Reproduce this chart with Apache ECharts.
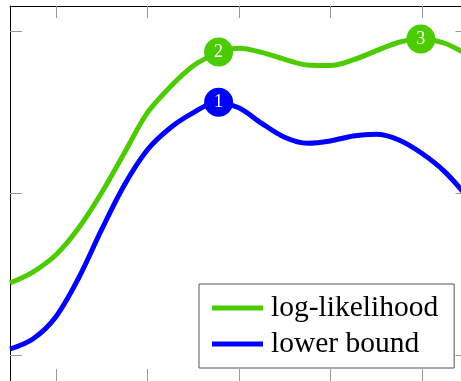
<!DOCTYPE html>
<html>
<head>
<meta charset="utf-8">
<script src="https://cdn.jsdelivr.net/npm/echarts@6/dist/echarts.min.js"></script>
<style>
  html, body { margin: 0; padding: 0; background: #fff; }
  #chart { width: 461px; height: 381px; }
</style>
</head>
<body>
<div id="chart"></div>
<script>
// ---- data ----
const seriesNames = ['log-likelihood', 'lower bound'];

const xs = [0.5, 0.75, 1.0, 1.25, 1.5, 1.75, 2.0, 2.25, 2.5, 2.75, 3.0, 3.25, 3.5, 3.75, 4.0, 4.25, 4.5, 4.75, 5.0, 5.25, 5.5];
const logLikelihood = [0.444, 0.512, 0.617, 0.784, 1.000, 1.247, 1.494, 1.654, 1.784, 1.858, 1.893, 1.868, 1.825, 1.790, 1.786, 1.821, 1.877, 1.930, 1.951, 1.924, 1.852];
const lowerBound    = [0.037, 0.099, 0.235, 0.475, 0.772, 1.049, 1.265, 1.401, 1.494, 1.559, 1.526, 1.430, 1.344, 1.307, 1.321, 1.352, 1.362, 1.327, 1.245, 1.132, 0.975];

// numbered markers
const markLabels = ['1', '2', '3'];
const markX = [2.78, 2.78, 4.99];
const markY = [1.56, 1.87, 1.95];
const markSeries = [1, 0, 0]; // index into colours

const xTicks = [1, 2, 3, 4, 5];
const yTicks = [0, 1, 2];

// ---- styling ----
const colors = ['#4ccc00', '#0000ff'];
const serif = 'Liberation Serif';

const zip = (a, b) => a.map((x, i) => [x, b[i]]);

const tickStyle = { show: true, inside: true, length: 12, lineStyle: { color: '#999', width: 1 } };

function xAxisDef(pos) {
  return {
    type: 'value', position: pos, min: 0.5, max: 5.5,
    axisLine: { show: true, onZero: false, lineStyle: { color: '#000', width: 1 } },
    axisTick: Object.assign({ customValues: xTicks }, tickStyle),
    axisLabel: { show: false },
    splitLine: { show: false }
  };
}
function yAxisDef(pos) {
  return {
    type: 'value', position: pos, min: -0.1605, max: 2.154,
    axisLine: { show: true, onZero: false, lineStyle: { color: '#000', width: 1 } },
    axisTick: Object.assign({ customValues: yTicks }, tickStyle),
    axisLabel: { show: false },
    splitLine: { show: false }
  };
}

const chart = echarts.init(document.getElementById('chart'), null, { renderer: 'canvas' });

const markerData = markLabels.map((lab, i) => ({
  value: [markX[i], markY[i]],
  name: lab,
  itemStyle: { color: colors[markSeries[i]], opacity: 1 }
}));

chart.setOption({
  animation: false,
  grid: { left: 10, top: 6, width: 457.5, height: 375, containLabel: false, outerBoundsMode: 'none' },
  xAxis: [xAxisDef('bottom'), xAxisDef('top')],
  yAxis: [yAxisDef('left'), yAxisDef('right')],
  legend: {
    data: seriesNames,
    orient: 'vertical',
    left: 199, top: 284,
    padding: [6, 16, 6, 13],
    itemGap: 0,
    itemWidth: 51, itemHeight: 5,
    icon: 'rect',
    selectedMode: false,
    backgroundColor: '#fff',
    borderColor: '#555',
    borderWidth: 1,
    borderRadius: 0,
    textStyle: { fontFamily: serif, fontSize: 29.5, color: '#000', lineHeight: 36, padding: [0, 0, 0, 3] }
  },
  series: [
    {
      name: seriesNames[0], type: 'line', data: zip(xs, logLikelihood),
      smooth: 0.33, showSymbol: false, symbol: 'none',
      lineStyle: { color: colors[0], width: 5 }, itemStyle: { color: colors[0] },
      z: 2
    },
    {
      name: seriesNames[1], type: 'line', data: zip(xs, lowerBound),
      smooth: 0.33, showSymbol: false, symbol: 'none',
      lineStyle: { color: colors[1], width: 5 }, itemStyle: { color: colors[1] },
      z: 2
    },
    {
      name: 'markers', type: 'scatter', data: markerData,
      symbol: 'circle', symbolSize: 29, z: 3,
      itemStyle: { opacity: 1 },
      emphasis: { disabled: true },
      label: {
        show: true, position: 'inside', formatter: p => p.name,
        fontFamily: serif, fontSize: 18, color: '#fff'
      }
    }
  ]
});
</script>
</body>
</html>
